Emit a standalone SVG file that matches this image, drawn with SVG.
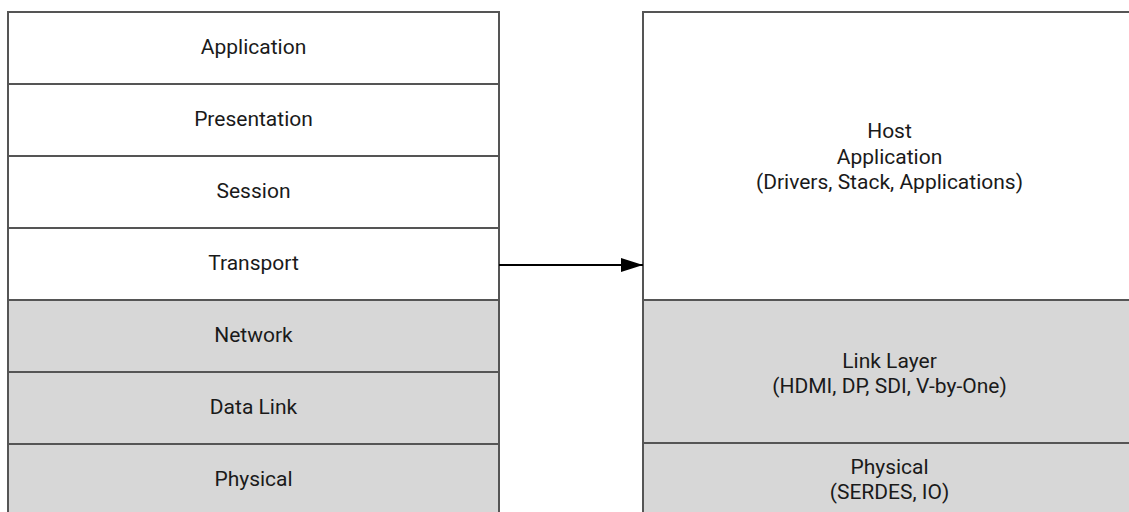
<svg xmlns="http://www.w3.org/2000/svg" width="1129" height="512" viewBox="0 0 1129 512">
<style>
  .w { fill: #ffffff; stroke: #555555; stroke-width: 2; }
  .g { fill: #d7d7d7; stroke: #555555; stroke-width: 2; }
  text { font-family: Roboto, "Liberation Sans", sans-serif; font-size: 21px; fill: #1a1a1a; text-anchor: middle; }
  .conn { stroke: #000000; stroke-width: 2; fill: none; }
</style>
<defs>
  <marker id="arrow" markerWidth="11" markerHeight="7" refX="11" refY="3.5" orient="auto" markerUnits="strokeWidth">
    <path d="M0,0 L11,3.5 L0,7 Z" fill="#000000"/>
  </marker>
</defs>
<rect width="1129" height="512" fill="#ffffff"/>
<g id="osi-application"><rect class="w" x="8" y="12" width="491" height="72"/><text x="253.5" y="54">Application</text></g>
<g id="osi-presentation"><rect class="w" x="8" y="84" width="491" height="72"/><text x="253.5" y="126">Presentation</text></g>
<g id="osi-session"><rect class="w" x="8" y="156" width="491" height="72"/><text x="253.5" y="198">Session</text></g>
<g id="osi-transport"><rect class="w" x="8" y="228" width="491" height="72"/><text x="253.5" y="270">Transport</text></g>
<g id="osi-network"><rect class="g" x="8" y="300" width="491" height="72"/><text x="253.5" y="342">Network</text></g>
<g id="osi-datalink"><rect class="g" x="8" y="372" width="491" height="72"/><text x="253.5" y="414">Data Link</text></g>
<g id="osi-physical"><rect class="g" x="8" y="444" width="491" height="72"/><text x="253.5" y="486">Physical</text></g>
<g id="host-application"><rect class="w" x="643" y="12" width="493" height="288"/>
  <text x="889.5" y="138">Host</text><text x="889.5" y="163.5">Application</text><text x="889.5" y="189">(Drivers, Stack, Applications)</text></g>
<g id="link-layer"><rect class="g" x="643" y="300" width="493" height="143"/>
  <text x="889.5" y="367.5">Link Layer</text><text x="889.5" y="393">(HDMI, DP, SDI, V-by-One)</text></g>
<g id="physical"><rect class="g" x="643" y="443" width="493" height="73"/>
  <text x="889.5" y="474">Physical</text><text x="889.5" y="499">(SERDES, IO)</text></g>
<g id="connectors">
  <line class="conn" x1="499" y1="265" x2="643" y2="265" marker-end="url(#arrow)"/>
</g>
</svg>
